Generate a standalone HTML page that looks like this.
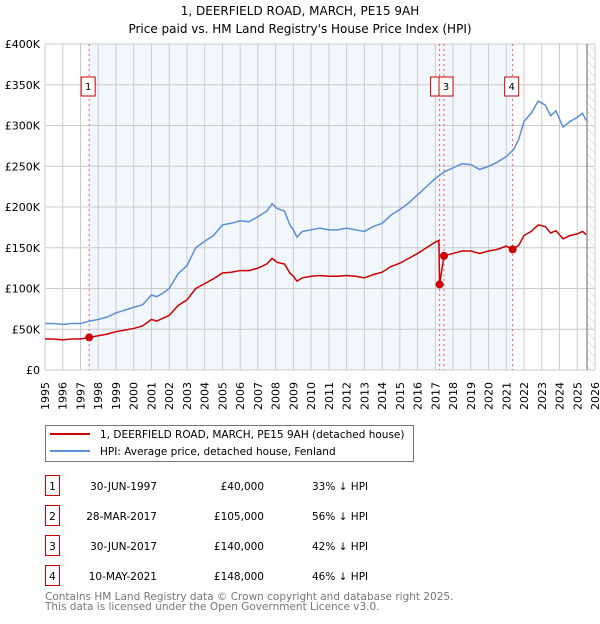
<!DOCTYPE html>
<html><head><meta charset="utf-8"><style>
body{margin:0;background:#fff;font-family:"DejaVu Sans","Liberation Sans",sans-serif;}
svg text{font-family:"DejaVu Sans","Liberation Sans",sans-serif;}
</style></head><body>
<svg id="chart" width="600" height="620" viewBox="0 0 600 620" xmlns="http://www.w3.org/2000/svg">
<defs><pattern id="hatch" width="6" height="6" patternUnits="userSpaceOnUse" patternTransform="rotate(-45)"><line x1="0" y1="0" x2="0" y2="6" stroke="#ccc" stroke-width="1"/></pattern></defs>
<text x="300" y="15" font-size="12" text-anchor="middle">1, DEERFIELD ROAD, MARCH, PE15 9AH</text>
<text x="300" y="33" font-size="12" text-anchor="middle">Price paid vs. HM Land Registry's House Price Index (HPI)</text>
<g id="plot"></g>
<g>
<rect x="45.5" y="425.5" width="368" height="36" fill="#fff" stroke="#777"/>
<line x1="50" y1="434" x2="90" y2="434" stroke="#cc0000" stroke-width="2"/>
<text x="100" y="438" font-size="10.5">1, DEERFIELD ROAD, MARCH, PE15 9AH (detached house)</text>
<line x1="50" y1="451" x2="90" y2="451" stroke="#5b8fd6" stroke-width="2"/>
<text x="100" y="455" font-size="10.5">HPI: Average price, detached house, Fenland</text>
</g>
<g id="table"></g>
<text x="45" y="600" font-size="10.5" fill="#777">Contains HM Land Registry data © Crown copyright and database right 2025.</text>
<text x="45" y="610" font-size="10.5" fill="#777">This data is licensed under the Open Government Licence v3.0.</text>
</svg>
<script>
const hpiYears=[1995,1995.5,1996,1996.5,1997,1997.5,1998,1998.5,1999,2000,2000.5,2001,2001.3,2001.7,2002,2002.5,2003,2003.5,2004,2004.5,2005,2005.5,2006,2006.5,2007,2007.5,2007.8,2008.1,2008.5,2008.8,2009,2009.2,2009.5,2010,2010.5,2011,2011.5,2012,2012.5,2013,2013.5,2014,2014.5,2015,2015.5,2016,2016.5,2017,2017.5,2018,2018.5,2019,2019.5,2020,2020.5,2021,2021.4,2021.7,2022,2022.4,2022.8,2023.2,2023.5,2023.8,2024.2,2024.6,2025,2025.3,2025.5];
const hpiValues=[57,57,56,57,57,60,62,65,70,77,80,92,90,95,100,118,128,150,158,165,178,180,183,182,188,195,204,198,195,178,172,163,170,172,174,172,172,174,172,170,176,180,190,197,205,215,225,235,243,248,253,252,246,250,255,262,270,283,305,315,330,325,312,318,298,305,310,315,306];
const paidYears=[1995,1995.5,1996,1996.5,1997,1997.5,1998,1998.5,1999,2000,2000.5,2001,2001.3,2001.7,2002,2002.5,2003,2003.5,2004,2004.5,2005,2005.5,2006,2006.5,2007,2007.5,2007.8,2008.1,2008.5,2008.8,2009,2009.2,2009.5,2010,2010.5,2011,2011.5,2012,2012.5,2013,2013.5,2014,2014.5,2015,2015.5,2016,2016.5,2017,2017.2,2017.24,2017.49,2018,2018.5,2019,2019.5,2020,2020.5,2021,2021.36,2021.7,2022,2022.4,2022.8,2023.2,2023.5,2023.8,2024.2,2024.6,2025,2025.3,2025.5];
const paidValues=[38,38,37,38,38,40,42,44,47,51,54,62,60,64,67,79,86,100,106,112,119,120,122,122,125,130,137,132,130,119,115,109,113,115,116,115,115,116,115,113,117,120,127,131,137,143,150,157,159,105,140,143,146,146,143,146,148,152,148,153,165,170,178,176,168,171,161,165,167,170,166];
const saleLabels=["1","2","3","4"];
const saleYears=[1997.49,2017.24,2017.49,2021.36];
const salePrices=[40,105,140,148];
const saleDates=["30-JUN-1997","28-MAR-2017","30-JUN-2017","10-MAY-2021"];
const salePriceText=["£40,000","£105,000","£140,000","£148,000"];
const saleHpiText=["33% ↓ HPI","56% ↓ HPI","42% ↓ HPI","46% ↓ HPI"];
const yTicks=[0,50,100,150,200,250,300,350,400];
const yTickLabels=["£0","£50K","£100K","£150K","£200K","£250K","£300K","£350K","£400K"];
const X0=45,X1=595,Y0=370,Y1=44,YR0=1995,YR1=2026;
const xs=y=>X0+(y-YR0)/(YR1-YR0)*(X1-X0);
const ys=v=>Y0-v/400*(Y0-Y1);
const NS="http://www.w3.org/2000/svg";
const plot=document.getElementById('plot');
function mk(tag,attrs,parent){const e=document.createElementNS(NS,tag);for(const k in attrs)e.setAttribute(k,attrs[k]);(parent||plot).appendChild(e);return e;}
let e;
e=mk('rect',{x:xs(saleYears[0]),y:Y1,width:xs(saleYears[3])-xs(saleYears[0]),height:Y0-Y1,fill:'#f2f6fd'});


e=mk('rect',{x:xs(2025.55),y:Y1,width:X1-xs(2025.55),height:Y0-Y1,fill:'url(#hatch)'});


for(let yr=YR0;yr<=YR1;yr++){
 e=mk('line',{x1:xs(yr),x2:xs(yr),y1:Y1,y2:Y0,stroke:'#ccc','stroke-width':1});
 
 
 e=mk('text',{transform:`translate(${xs(yr)+4},${410}) rotate(-90)`,'font-size':11});
 e.textContent=yr;
 
 
}
yTicks.forEach((v,i)=>{
 e=mk('line',{x1:X0,x2:X1,y1:ys(v),y2:ys(v),stroke:'#ccc','stroke-width':1});
 
 
 e=mk('text',{x:40,y:ys(v)+4,'font-size':11,'text-anchor':'end'});
 e.textContent=yTickLabels[i];
 
 
});
e=mk('line',{x1:xs(2025.55),x2:xs(2025.55),y1:Y1,y2:Y0,stroke:'#666','stroke-width':1});


saleYears.forEach((yr,i)=>{
 e=mk('line',{x1:xs(yr),x2:xs(yr),y1:Y1,y2:Y0,stroke:'#f06060','stroke-width':1,'stroke-dasharray':'2,3'});
 
 
});
e=mk('polyline',{points:hpiYears.map((y,i)=>xs(y)+','+ys(hpiValues[i])).join(' '),fill:'none',stroke:'#5b8fd6','stroke-width':1.5});


e=mk('polyline',{points:paidYears.map((y,i)=>xs(y)+','+ys(paidValues[i])).join(' '),fill:'none',stroke:'#cc0000','stroke-width':1.5});


saleYears.forEach((yr,i)=>{
 e=mk('circle',{cx:xs(yr),cy:ys(salePrices[i]),r:4,fill:'#cc0000'});
 
 
 const bx=xs(yr)-(i==1?13:i==2?-1:7)-(i==2?0:0);
 const left=i==1?xs(yr)-9:(i==2?xs(yr)-5:xs(yr)-8);
 e=mk('rect',{x:left,y:77,width:i==1?9:14,height:19,fill:'#fff',stroke:'#cc0000','stroke-width':1});
 
 
 if(i!=1){
  e=mk('text',{x:left+7,y:90,'font-size':10,'text-anchor':'middle'});
  e.textContent=saleLabels[i];
  
  
 }
});
const tbl=document.getElementById('table');
saleLabels.forEach((l,i)=>{
 const y=490+i*30;
 e=mk('rect',{x:45.5,y:y-14.5,width:14,height:20,fill:'#fff',stroke:'#cc0000'},tbl);
 
 
 e=mk('text',{x:52.5,y:y,'font-size':10.5,'text-anchor':'middle'},tbl);e.textContent=l;
 
 
 e=mk('text',{x:157,y:y,'font-size':10.5,'text-anchor':'end'},tbl);e.textContent=saleDates[i];
 
 
 e=mk('text',{x:264,y:y,'font-size':10.5,'text-anchor':'end'},tbl);e.textContent=salePriceText[i];
 
 
 e=mk('text',{x:312,y:y,'font-size':10.5},tbl);e.textContent=saleHpiText[i];
 
 
});
</script>
</body></html>
